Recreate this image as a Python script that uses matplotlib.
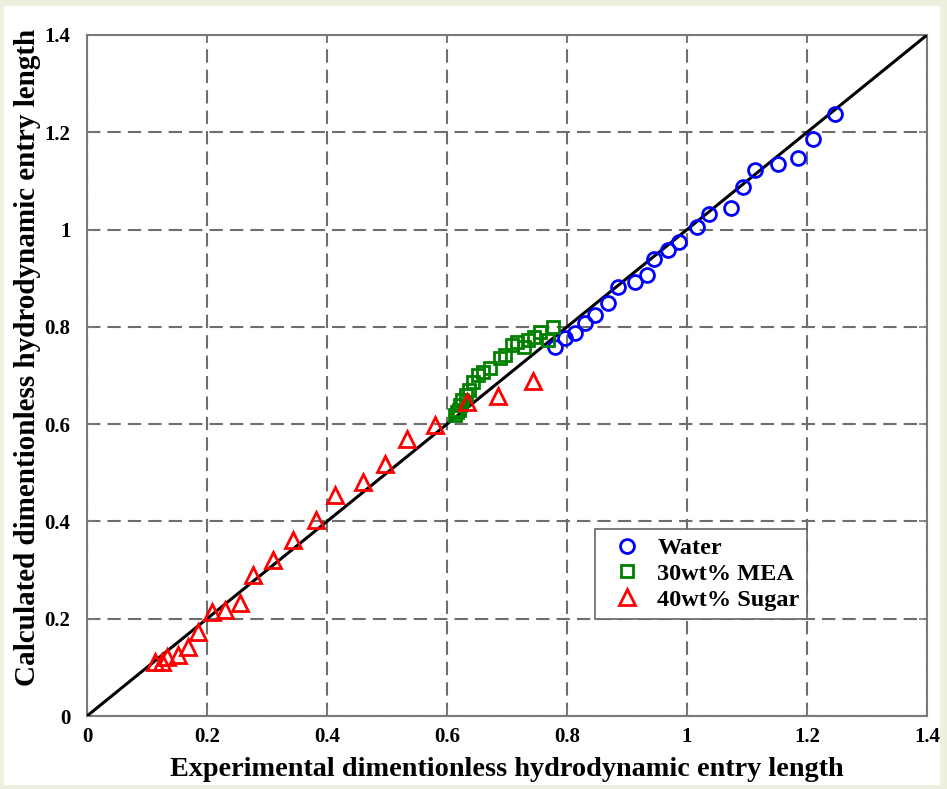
import matplotlib
matplotlib.use('Agg')
import matplotlib.pyplot as plt
from matplotlib.patches import Rectangle

# water (circles)
water_x = [0.780, 0.797, 0.813, 0.830, 0.847, 0.868, 0.885, 0.913, 0.933, 0.945, 0.968,
           0.987, 1.017, 1.037, 1.073, 1.093, 1.113, 1.152, 1.185, 1.210, 1.247]
water_y = [0.759, 0.777, 0.787, 0.808, 0.824, 0.849, 0.882, 0.892, 0.907, 0.940, 0.958,
           0.975, 1.005, 1.032, 1.044, 1.088, 1.122, 1.135, 1.147, 1.186, 1.238]

# 30wt% MEA (squares)
mea_x = [0.613, 0.617, 0.620, 0.622, 0.625, 0.632, 0.637, 0.643, 0.652, 0.660, 0.672,
         0.688, 0.697, 0.708, 0.717, 0.728, 0.735, 0.745, 0.755, 0.768, 0.777]
mea_y = [0.619, 0.625, 0.630, 0.639, 0.650, 0.660, 0.670, 0.687, 0.701, 0.707, 0.715,
         0.736, 0.742, 0.763, 0.769, 0.759, 0.773, 0.779, 0.789, 0.773, 0.800]

# 40wt% Sugar (triangles)
sugar_x = [0.113, 0.125, 0.133, 0.152, 0.168, 0.185, 0.208, 0.230, 0.255, 0.277, 0.310,
           0.343, 0.382, 0.413, 0.460, 0.497, 0.533, 0.580, 0.633, 0.685, 0.743]
sugar_y = [0.111, 0.111, 0.121, 0.125, 0.142, 0.173, 0.214, 0.218, 0.232, 0.290, 0.321,
           0.362, 0.403, 0.454, 0.481, 0.518, 0.569, 0.598, 0.646, 0.658, 0.689]

ticks = [0, 0.2, 0.4, 0.6, 0.8, 1, 1.2, 1.4]
tick_labels = ['0', '0.2', '0.4', '0.6', '0.8', '1', '1.2', '1.4']

plt.rcParams['font.family'] = ['Liberation Serif', 'DejaVu Serif']
plt.rcParams['font.weight'] = 'bold'

W, H = 947, 789
fig = plt.figure(figsize=(W / 100, H / 100), dpi=100, facecolor='#ebf1de')
fig.patches.append(Rectangle((4 / W, 1 - 785 / H), 936 / W, 779 / H,
                             transform=fig.transFigure, facecolor='white',
                             edgecolor='none', zorder=-10))

ax = fig.add_axes([87 / W, 1 - 716 / H, 840 / W, 681 / H])
ax.set_facecolor('white')

ax.plot([0, 1.4], [0, 1.4], color='black', lw=2.2, zorder=3)
ax.plot(water_x, water_y, 'o', ms=10, mfc='none', mec='#0000ff', mew=2, label='Water', zorder=4)
ax.plot(mea_x, mea_y, 's', ms=8.5, mfc='none', mec='#008000', mew=2, label='30wt% MEA', zorder=4)
ax.plot(sugar_x, sugar_y, '^', ms=11, mfc='none', mec='#ff0000', mew=2, label='40wt% Sugar', zorder=4)

ax.set_xlim(0, 1.4)
ax.set_ylim(0, 1.4)
ax.set_xticks(ticks)
ax.set_xticklabels(tick_labels)
ax.set_yticks(ticks)
ax.set_yticklabels(tick_labels)
ax.grid(True, color='#6e6e6e', lw=1.5, dashes=(6.4, 3.4))
ax.set_axisbelow(True)
for s in ax.spines.values():
    s.set_color('#7a7a7a')
    s.set_linewidth(1.5)
ax.tick_params(direction='in', top=True, right=True, length=6, width=1.2,
               color='#7a7a7a', labelsize=15)
ax.tick_params(axis='x', pad=8)
ax.tick_params(axis='y', pad=12)

ax.set_xlabel('Experimental dimentionless hydrodynamic entry length', fontsize=20.3,
              fontweight='bold', labelpad=7)
ax.set_ylabel('Calculated dimentionless hydrodynamic entry length', fontsize=21,
              fontweight='bold')
ax.yaxis.set_label_coords(-0.055, 0.527)

leg = ax.legend(loc='upper left', bbox_to_anchor=(0.605, 0.2746), fontsize=17.5,
                frameon=True, fancybox=False, framealpha=1, edgecolor='#666666',
                handlelength=1.97, handletextpad=0.25, borderpad=0.33, labelspacing=0.16,
                borderaxespad=0)
leg.get_frame().set_linewidth(1.2)

fig.savefig('out.png', dpi=100, facecolor=fig.get_facecolor())
